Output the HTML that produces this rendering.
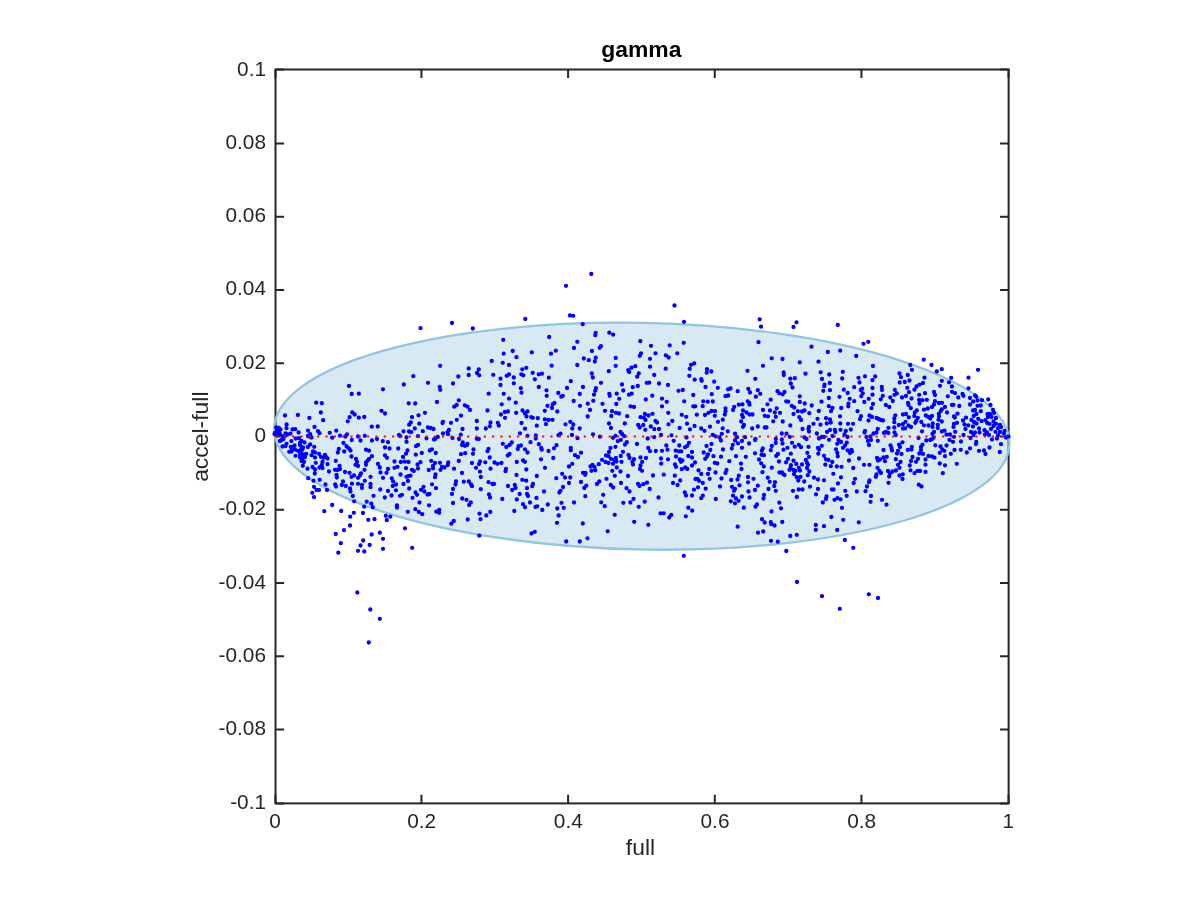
<!DOCTYPE html>
<html><head><meta charset="utf-8"><title>gamma</title>
<style>html,body{margin:0;padding:0;background:#fff}body{width:1200px;height:900px;overflow:hidden}</style>
</head><body>
<svg width="1200" height="900" viewBox="0 0 1200 900" style="display:block">
<rect width="1200" height="900" fill="#fff"/>
<rect x="275.5" y="69.5" width="733.1" height="733.9" fill="none" stroke="#262626" stroke-width="2"/>
<path d="M275.50 803.4v-8.6M275.50 69.5v8.6M421.44 803.4v-8.6M421.44 69.5v8.6M568.10 803.4v-8.6M568.10 69.5v8.6M714.77 803.4v-8.6M714.77 69.5v8.6M861.44 803.4v-8.6M861.44 69.5v8.6M1008.60 803.4v-8.6M1008.60 69.5v8.6M275.5 803.40h8.6M1008.6 803.40h-8.6M275.5 729.43h8.6M1008.6 729.43h-8.6M275.5 656.18h8.6M1008.6 656.18h-8.6M275.5 582.93h8.6M1008.6 582.93h-8.6M275.5 509.68h8.6M1008.6 509.68h-8.6M275.5 436.43h8.6M1008.6 436.43h-8.6M275.5 363.18h8.6M1008.6 363.18h-8.6M275.5 289.93h8.6M1008.6 289.93h-8.6M275.5 216.68h8.6M1008.6 216.68h-8.6M275.5 143.43h8.6M1008.6 143.43h-8.6M275.5 69.50h8.6M1008.6 69.50h-8.6" stroke="#262626" stroke-width="2" fill="none"/>
<ellipse cx="641.8" cy="436.2" rx="367.7" ry="113.3" transform="rotate(1.2 641.8 436.2)" fill="rgba(58,145,195,0.2)" stroke="#94c4e0" stroke-width="2.3"/>
<path d="M285.0 415.5h0M297.9 415.0h0M309.4 418.0h0M323.2 420.2h0M286.6 424.4h0M286.5 428.2h0M314.5 426.9h0M308.0 430.6h0M318.0 431.2h0M319.5 433.2h0M292.5 429.4h0M295.2 429.2h0M298.6 432.5h0M276.2 427.5h0M278.8 427.8h0M280.5 429.5h0M277.0 430.0h0M275.0 433.0h0M277.2 432.5h0M279.2 432.2h0M274.5 434.0h0M276.0 435.0h0M278.0 434.8h0M280.0 434.2h0M285.5 433.5h0M287.5 434.5h0M290.5 433.6h0M285.2 435.8h0M283.0 436.5h0M310.2 434.2h0M308.0 436.0h0M310.0 436.8h0M311.5 437.5h0M295.8 438.5h0M299.0 438.2h0M280.0 441.0h0M281.8 440.0h0M283.5 439.0h0M291.4 441.1h0M301.5 441.0h0M304.5 442.5h0M300.0 443.0h0M286.5 443.8h0M285.5 446.0h0M282.5 446.5h0M310.2 444.5h0M307.8 447.0h0M314.2 446.8h0M300.0 445.0h0M294.5 445.5h0M290.8 447.0h0M303.0 447.5h0M301.5 447.0h0M292.0 449.0h0M295.0 449.5h0M298.0 450.8h0M300.8 450.0h0M289.2 451.8h0M291.5 451.5h0M302.5 449.5h0M313.0 451.5h0M315.0 452.5h0M319.0 453.8h0M306.2 453.8h0M302.0 454.0h0M300.0 454.5h0M304.0 455.0h0M311.5 455.2h0M295.5 455.8h0M325.0 455.0h0M315.0 457.5h0M321.0 456.8h0M323.5 457.8h0M326.0 457.0h0M300.0 457.5h0M303.0 458.0h0M305.0 457.0h0M327.5 458.5h0M988.2 399.5h0M990.5 405.0h0M982.0 400.2h0M977.5 400.5h0M973.2 401.5h0M976.0 396.5h0M975.0 395.5h0M970.0 398.0h0M970.0 404.5h0M977.5 405.8h0M980.8 405.5h0M973.0 410.5h0M975.0 410.0h0M980.8 411.2h0M976.5 414.0h0M973.8 416.0h0M993.0 410.0h0M994.0 413.0h0M987.5 414.2h0M990.0 414.0h0M988.0 417.0h0M991.5 417.0h0M996.0 418.0h0M978.2 418.8h0M985.5 420.2h0M981.5 421.2h0M971.5 420.0h0M974.0 422.0h0M976.5 423.5h0M987.2 423.0h0M989.5 423.8h0M993.5 421.5h0M996.0 423.8h0M1000.0 425.0h0M993.5 426.0h0M973.0 426.5h0M1001.0 427.0h0M979.0 428.5h0M991.0 429.0h0M998.0 428.2h0M984.5 430.2h0M1004.5 430.8h0M995.5 431.8h0M1000.0 432.0h0M971.0 432.0h0M975.0 432.5h0M979.5 432.5h0M987.0 432.5h0M1004.0 433.5h0M985.0 434.5h0M989.0 435.0h0M973.5 435.0h0M998.0 435.5h0M1008.5 436.5h0M1006.0 437.5h0M970.5 438.0h0M997.0 438.5h0M992.0 439.5h0M320.8 412.5h0M352.2 412.5h0M354.7 414.5h0M349.6 417.2h0M358.8 417.7h0M364.3 417.0h0M347.8 421.3h0M381.5 410.8h0M385.0 413.5h0M371.8 426.7h0M377.8 426.5h0M336.3 430.7h0M329.8 432.8h0M347.0 434.3h0M340.0 435.7h0M345.5 436.5h0M364.8 435.8h0M358.0 436.5h0M332.2 437.7h0M377.0 439.0h0M351.8 440.0h0M360.5 440.5h0M372.0 440.5h0M382.8 441.2h0M388.0 442.2h0M343.5 443.0h0M346.5 446.2h0M348.0 447.8h0M349.5 449.2h0M350.5 450.5h0M338.8 449.0h0M385.0 447.5h0M389.5 448.5h0M366.0 449.7h0M369.0 450.7h0M337.8 452.5h0M344.2 451.5h0M351.5 456.5h0M372.0 456.2h0M385.0 455.5h0M387.0 457.8h0M356.0 459.0h0M369.0 459.0h0M367.5 460.8h0M335.8 460.8h0M357.0 462.0h0M304.0 462.0h0M301.5 461.0h0M315.8 462.8h0M322.5 462.0h0M366.0 462.5h0M378.0 464.0h0M327.5 464.2h0M355.5 464.8h0M358.0 466.0h0M302.8 465.8h0M321.8 464.8h0M366.0 464.8h0M339.5 466.0h0M312.5 467.0h0M319.5 467.5h0M322.5 468.0h0M379.8 467.5h0M307.5 468.7h0M388.0 469.0h0M315.0 469.5h0M340.0 469.0h0M335.0 469.8h0M337.5 470.0h0M364.5 469.8h0M329.0 471.5h0M345.0 472.0h0M380.5 472.5h0M386.5 472.8h0M314.8 473.5h0M349.5 472.8h0M361.0 473.3h0M336.5 475.0h0M354.0 475.5h0M360.0 475.5h0M351.5 476.8h0M358.0 477.8h0M370.5 476.8h0M336.8 477.5h0M383.0 477.8h0M308.2 478.2h0M319.7 479.8h0M313.5 480.7h0M364.8 480.8h0M343.0 481.5h0M352.0 483.7h0M358.0 483.8h0M362.0 484.8h0M370.5 484.0h0M325.5 484.5h0M341.8 485.0h0M335.2 484.5h0M336.0 486.5h0M345.8 486.0h0M314.0 486.8h0M370.5 487.2h0M362.0 488.0h0M350.0 488.5h0M380.3 489.5h0M388.0 491.0h0M327.0 490.0h0M316.5 490.0h0M319.0 490.0h0M350.5 491.5h0M312.2 492.8h0M352.8 496.0h0M373.5 495.8h0M314.0 497.2h0M384.8 497.5h0M425.0 412.8h0M418.5 415.3h0M412.0 417.2h0M461.0 415.7h0M487.5 410.5h0M470.0 410.0h0M501.0 414.5h0M505.0 412.0h0M508.0 411.5h0M505.0 417.8h0M456.8 419.8h0M476.8 421.0h0M443.0 421.8h0M442.5 423.0h0M451.0 422.8h0M490.5 422.5h0M497.8 422.8h0M410.8 422.5h0M419.3 423.7h0M409.2 424.7h0M498.8 425.5h0M489.8 426.3h0M485.8 428.5h0M476.8 428.5h0M414.8 428.5h0M428.0 427.5h0M430.5 428.0h0M433.5 429.0h0M462.5 429.0h0M449.0 430.0h0M403.5 431.3h0M409.0 431.5h0M411.2 432.2h0M422.8 431.2h0M447.5 432.2h0M443.0 433.5h0M448.0 434.2h0M460.8 434.7h0M399.0 435.0h0M400.0 436.0h0M418.0 436.2h0M406.5 437.5h0M437.8 437.0h0M426.5 438.3h0M435.0 439.0h0M434.0 439.5h0M452.5 438.0h0M459.0 439.0h0M476.8 438.8h0M478.8 439.0h0M406.5 441.8h0M462.8 442.5h0M467.5 443.8h0M462.0 445.0h0M464.8 445.8h0M466.8 445.2h0M502.8 443.8h0M418.0 445.0h0M416.0 446.2h0M509.5 445.0h0M506.3 447.0h0M398.2 448.5h0M488.5 448.8h0M473.5 449.5h0M487.5 451.2h0M407.5 450.5h0M432.0 449.3h0M429.8 450.5h0M421.8 453.0h0M435.8 453.0h0M465.2 453.2h0M461.0 454.2h0M473.0 453.8h0M406.0 453.7h0M415.8 454.7h0M509.5 454.0h0M507.8 455.5h0M403.0 457.0h0M489.8 457.5h0M394.5 461.5h0M400.8 462.0h0M404.8 461.7h0M408.5 462.0h0M431.2 460.8h0M458.8 461.0h0M440.0 462.8h0M435.0 463.0h0M448.3 462.5h0M420.5 462.2h0M417.5 464.5h0M472.0 463.0h0M480.0 461.5h0M479.0 464.0h0M485.3 462.3h0M494.5 462.5h0M497.5 463.8h0M501.5 463.0h0M447.8 465.0h0M433.0 466.0h0M442.0 467.0h0M444.5 467.5h0M433.0 468.3h0M397.5 466.8h0M394.5 467.8h0M406.0 468.2h0M418.0 468.5h0M440.5 469.8h0M428.8 470.0h0M454.0 468.7h0M476.0 467.8h0M490.5 468.7h0M412.0 469.8h0M413.8 471.0h0M506.0 469.0h0M505.5 471.2h0M480.0 471.7h0M462.0 473.0h0M400.5 474.5h0M435.5 474.5h0M410.5 475.7h0M408.5 476.2h0M406.5 476.8h0M435.0 477.2h0M480.8 477.0h0M391.8 478.3h0M408.0 481.0h0M393.0 481.3h0M456.0 481.5h0M463.8 481.7h0M468.8 481.5h0M488.5 482.2h0M492.5 484.0h0M494.0 484.0h0M403.5 484.0h0M396.0 484.5h0M392.8 486.0h0M432.0 484.3h0M455.5 484.5h0M471.0 484.5h0M472.0 486.2h0M508.0 486.0h0M423.5 486.8h0M436.0 488.2h0M409.2 488.5h0M453.0 489.0h0M480.8 489.2h0M421.0 489.8h0M396.0 490.3h0M424.3 491.5h0M415.5 492.5h0M417.0 494.8h0M427.5 494.5h0M429.5 494.0h0M452.0 494.0h0M489.0 494.5h0M391.5 495.5h0M402.0 494.8h0M400.0 495.8h0M490.0 497.5h0M412.5 497.8h0M462.2 498.5h0M502.3 499.0h0M466.5 499.8h0M516.2 412.8h0M522.5 410.5h0M525.0 413.5h0M527.5 411.5h0M526.5 416.5h0M544.8 410.8h0M557.3 411.5h0M590.0 410.0h0M605.0 410.8h0M612.0 411.2h0M616.0 412.8h0M619.0 413.5h0M611.3 416.0h0M627.2 416.2h0M587.7 416.5h0M531.3 417.2h0M532.8 417.8h0M537.8 418.2h0M544.8 419.3h0M548.5 420.0h0M552.5 419.8h0M521.5 423.0h0M570.3 421.8h0M609.0 423.5h0M624.8 423.5h0M546.0 424.2h0M565.5 424.3h0M573.3 424.5h0M536.8 425.7h0M525.0 428.7h0M572.3 428.5h0M579.7 428.5h0M611.0 428.0h0M620.5 432.0h0M622.0 434.0h0M520.0 433.3h0M560.5 433.7h0M558.5 435.2h0M572.0 435.0h0M593.0 434.3h0M527.5 435.8h0M535.8 435.5h0M615.5 435.8h0M624.0 436.0h0M600.0 436.7h0M613.0 437.8h0M535.8 438.5h0M577.5 438.2h0M620.8 439.8h0M617.8 441.2h0M626.8 442.2h0M530.5 442.2h0M511.8 442.5h0M538.8 444.2h0M625.0 444.5h0M556.5 445.2h0M521.0 445.5h0M518.5 446.2h0M615.5 446.8h0M570.8 447.8h0M610.5 448.0h0M541.2 448.0h0M554.0 448.3h0M517.8 449.0h0M525.0 449.3h0M541.8 449.7h0M570.8 450.3h0M548.5 451.0h0M527.5 452.5h0M581.0 452.7h0M609.0 452.0h0M623.0 451.8h0M575.0 455.2h0M606.0 455.5h0M608.5 456.2h0M620.8 456.0h0M628.5 455.0h0M578.0 457.0h0M553.3 458.0h0M616.0 457.8h0M611.0 458.8h0M614.0 459.8h0M541.0 459.3h0M602.0 459.8h0M523.0 460.5h0M525.0 461.8h0M516.8 462.0h0M616.5 461.5h0M621.5 461.8h0M605.5 462.0h0M608.5 463.0h0M629.5 458.0h0M572.3 463.8h0M613.0 463.8h0M598.8 464.2h0M592.5 464.8h0M569.0 466.5h0M590.5 466.5h0M594.5 467.0h0M545.0 467.8h0M616.8 467.5h0M526.3 469.5h0M595.3 470.3h0M591.5 470.8h0M612.3 470.8h0M620.5 471.5h0M583.0 472.8h0M585.5 472.8h0M585.2 474.8h0M562.2 473.8h0M516.5 475.0h0M536.8 476.0h0M614.8 475.8h0M628.0 476.0h0M565.0 477.5h0M570.3 477.5h0M556.3 478.2h0M606.5 478.8h0M522.3 479.8h0M526.2 480.7h0M599.3 481.5h0M581.0 482.0h0M569.0 483.0h0M621.0 483.0h0M597.0 484.0h0M533.0 484.0h0M532.2 486.2h0M514.8 485.0h0M610.8 485.0h0M586.3 485.7h0M515.5 488.0h0M563.0 487.0h0M613.2 487.5h0M584.3 488.0h0M527.0 488.2h0M626.5 488.2h0M512.2 490.0h0M560.5 490.8h0M544.0 491.5h0M559.3 492.5h0M629.5 491.5h0M519.7 494.0h0M527.0 494.0h0M603.2 494.8h0M528.0 496.0h0M585.3 496.2h0M536.5 498.0h0M516.8 499.5h0M668.3 412.8h0M652.5 413.8h0M644.8 414.0h0M648.5 415.5h0M640.5 417.2h0M644.0 417.8h0M645.5 420.0h0M681.8 414.8h0M696.8 414.7h0M686.2 416.8h0M705.0 415.0h0M708.5 412.8h0M711.5 411.0h0M715.0 411.2h0M714.8 415.8h0M725.5 411.2h0M724.8 414.5h0M733.0 410.0h0M743.0 410.5h0M746.5 412.5h0M742.0 415.0h0M749.5 414.5h0M743.0 417.2h0M722.8 419.7h0M718.0 421.8h0M741.2 421.5h0M655.5 421.0h0M657.0 422.5h0M672.3 421.0h0M687.0 423.7h0M668.5 424.3h0M638.2 425.0h0M643.3 425.0h0M639.7 427.5h0M650.8 426.5h0M694.5 426.0h0M710.0 426.7h0M744.0 425.0h0M743.0 426.8h0M679.7 428.0h0M654.3 429.2h0M659.0 429.0h0M645.3 429.8h0M690.0 429.3h0M701.2 428.5h0M704.5 430.8h0M722.7 428.3h0M727.8 431.3h0M735.0 433.7h0M721.8 433.8h0M661.0 435.0h0M671.5 435.3h0M712.8 434.8h0M715.5 436.3h0M654.2 437.2h0M647.7 438.5h0M686.5 437.5h0M719.5 437.5h0M721.0 440.5h0M737.0 437.2h0M745.0 437.2h0M735.0 440.5h0M742.0 441.0h0M738.0 443.3h0M673.7 440.8h0M689.0 442.8h0M637.0 444.0h0M711.5 444.0h0M749.0 443.5h0M732.8 444.8h0M679.3 445.5h0M666.3 445.5h0M687.3 445.8h0M685.0 447.3h0M706.5 446.0h0M648.3 448.0h0M742.0 447.8h0M731.8 448.5h0M667.5 449.7h0M723.0 449.5h0M710.3 450.0h0M655.8 451.0h0M662.0 450.8h0M650.0 451.2h0M675.7 450.7h0M678.8 451.3h0M681.3 451.3h0M692.0 452.0h0M703.7 452.5h0M708.0 454.3h0M688.3 456.0h0M676.0 456.5h0M713.5 456.2h0M721.0 456.7h0M736.0 456.2h0M745.8 456.8h0M707.0 456.5h0M692.0 457.5h0M640.5 457.5h0M646.0 458.0h0M705.2 458.8h0M661.0 458.5h0M668.0 459.3h0M634.0 459.2h0M679.8 459.5h0M682.5 460.5h0M681.0 461.8h0M729.3 461.2h0M632.5 461.8h0M642.2 461.8h0M695.0 462.5h0M633.0 464.5h0M714.8 462.8h0M717.3 463.5h0M661.2 463.7h0M741.0 463.7h0M675.0 464.5h0M676.0 466.8h0M692.0 465.5h0M640.5 465.5h0M685.3 467.5h0M687.3 469.0h0M681.8 469.2h0M640.0 469.0h0M642.0 470.8h0M709.3 469.0h0M741.5 469.0h0M698.5 470.3h0M726.5 470.0h0M715.5 472.5h0M725.5 473.0h0M701.2 474.0h0M708.0 474.0h0M663.8 474.7h0M653.0 475.5h0M674.8 475.7h0M738.8 475.7h0M748.0 477.0h0M721.5 478.5h0M709.7 478.8h0M695.5 479.0h0M697.5 478.8h0M699.0 480.8h0M737.5 479.5h0M731.2 480.0h0M680.2 480.5h0M748.0 482.3h0M647.0 482.7h0M702.8 483.0h0M673.0 483.0h0M643.3 484.2h0M638.0 483.8h0M639.5 486.0h0M677.5 485.0h0M739.5 485.3h0M720.0 486.5h0M732.0 486.8h0M698.0 487.3h0M705.7 488.7h0M649.7 489.0h0M735.0 489.0h0M694.0 489.7h0M734.0 490.8h0M748.5 491.5h0M684.8 492.5h0M686.0 495.5h0M692.0 495.5h0M702.8 495.7h0M733.0 495.7h0M742.0 496.5h0M658.5 497.5h0M701.2 498.2h0M715.8 499.0h0M633.5 499.0h0M736.0 498.5h0M749.5 497.5h0M763.0 410.0h0M770.0 410.5h0M774.8 412.5h0M780.0 412.8h0M775.8 416.8h0M764.8 415.8h0M768.0 416.3h0M752.5 414.5h0M793.5 414.0h0M797.8 411.2h0M802.0 411.5h0M804.5 410.5h0M809.3 413.2h0M818.8 411.0h0M831.0 411.2h0M857.5 411.2h0M799.3 417.2h0M801.0 420.0h0M817.5 418.8h0M826.0 418.2h0M830.0 419.5h0M840.0 416.3h0M861.0 416.2h0M860.0 419.2h0M869.5 415.5h0M868.5 420.5h0M773.2 421.3h0M782.7 421.5h0M830.8 422.5h0M826.8 423.5h0M813.5 423.8h0M820.5 424.7h0M840.3 423.5h0M848.0 423.8h0M853.0 423.8h0M790.3 425.5h0M757.8 426.5h0M764.8 427.5h0M766.5 427.5h0M752.2 428.5h0M809.0 426.8h0M802.5 429.0h0M808.5 429.0h0M809.0 431.5h0M850.8 429.5h0M840.5 429.8h0M830.0 430.0h0M834.8 429.8h0M827.0 432.0h0M835.3 432.0h0M845.8 431.0h0M865.0 431.0h0M864.5 432.5h0M781.8 433.5h0M786.5 433.7h0M816.8 433.5h0M844.5 434.5h0M832.5 436.0h0M789.8 436.8h0M804.5 437.5h0M806.5 439.0h0M847.5 437.0h0M821.8 437.0h0M824.0 437.0h0M819.0 438.5h0M829.0 439.8h0M866.5 437.0h0M868.0 441.0h0M775.8 439.0h0M781.8 439.5h0M755.5 439.0h0M755.0 440.0h0M838.5 440.0h0M841.0 442.0h0M846.8 442.7h0M782.5 443.5h0M775.8 443.0h0M792.0 442.8h0M837.2 443.8h0M798.8 444.8h0M869.0 445.0h0M771.8 446.0h0M821.8 445.8h0M845.0 445.5h0M794.7 446.7h0M801.0 447.2h0M808.5 446.8h0M843.0 447.8h0M787.5 447.8h0M818.0 448.0h0M762.8 448.5h0M819.0 449.5h0M783.5 449.7h0M770.8 450.2h0M836.0 449.3h0M761.8 450.8h0M851.5 450.0h0M847.5 450.3h0M852.0 451.5h0M850.0 453.0h0M837.3 452.8h0M755.0 453.3h0M807.3 452.8h0M818.3 453.7h0M790.8 453.7h0M778.0 454.0h0M761.5 454.8h0M764.0 455.2h0M776.2 456.0h0M824.0 455.8h0M837.8 456.3h0M809.0 456.8h0M859.0 458.5h0M788.0 458.8h0M759.0 459.5h0M826.0 459.3h0M828.3 460.0h0M805.8 460.0h0M849.0 460.5h0M793.5 460.7h0M779.0 461.5h0M832.3 462.0h0M786.0 462.3h0M807.0 462.7h0M761.2 463.3h0M796.3 464.0h0M802.0 464.5h0M808.0 464.8h0M825.3 464.7h0M791.0 465.2h0M864.0 464.8h0M869.5 464.8h0M763.8 466.5h0M830.8 466.2h0M836.8 466.5h0M841.5 466.8h0M771.8 467.7h0M790.5 467.8h0M798.8 467.8h0M807.0 468.0h0M853.3 468.0h0M789.5 469.8h0M793.5 470.0h0M795.5 470.8h0M800.0 470.5h0M809.3 471.5h0M762.5 472.2h0M779.5 472.5h0M782.0 472.5h0M783.0 474.0h0M784.5 475.0h0M794.0 474.0h0M833.3 473.8h0M807.8 475.2h0M796.7 477.2h0M800.5 476.8h0M841.0 477.3h0M814.0 477.7h0M767.8 477.7h0M753.5 478.8h0M818.0 479.5h0M855.0 478.8h0M824.0 480.3h0M798.3 480.5h0M869.5 480.5h0M804.3 481.5h0M769.7 481.8h0M775.0 482.2h0M869.0 482.2h0M853.7 483.0h0M838.0 483.5h0M757.8 485.7h0M774.3 486.0h0M810.0 486.7h0M867.0 486.5h0M768.5 489.0h0M818.0 489.0h0M798.7 489.5h0M802.5 489.5h0M755.0 490.0h0M832.0 489.5h0M833.5 489.5h0M775.8 490.8h0M793.0 490.8h0M845.3 490.8h0M856.8 491.5h0M865.5 491.2h0M816.0 494.3h0M764.0 495.0h0M846.7 495.8h0M826.5 496.5h0M796.8 497.0h0M763.5 498.5h0M837.5 498.2h0M826.0 499.0h0M840.5 499.3h0M834.5 499.8h0M873.0 366.0h0M910.3 365.0h0M931.5 365.0h0M912.0 369.8h0M941.8 369.2h0M936.8 371.5h0M978.0 369.8h0M899.5 373.5h0M907.8 375.0h0M875.2 376.5h0M901.0 377.2h0M924.5 377.7h0M951.2 377.8h0M968.5 377.7h0M872.5 380.2h0M909.5 380.5h0M904.8 382.0h0M899.7 382.5h0M941.8 380.8h0M949.0 382.3h0M923.0 383.0h0M919.5 384.7h0M916.5 386.5h0M940.0 385.8h0M952.0 386.5h0M881.8 386.8h0M872.5 388.0h0M907.3 387.8h0M968.5 388.3h0M882.0 390.0h0M894.8 389.8h0M914.5 389.7h0M909.0 392.2h0M934.0 392.0h0M952.0 391.8h0M955.0 393.2h0M925.0 393.2h0M896.8 393.5h0M894.5 394.8h0M919.2 394.8h0M935.0 395.0h0M962.5 394.0h0M963.5 395.8h0M872.5 394.7h0M882.8 395.8h0M906.0 396.0h0M947.8 396.3h0M902.0 397.5h0M890.3 397.5h0M958.3 397.5h0M911.5 398.5h0M880.8 399.3h0M919.0 399.8h0M922.5 400.2h0M926.8 399.8h0M892.8 401.0h0M935.0 401.2h0M919.5 403.5h0M908.0 403.0h0M939.0 403.0h0M942.0 402.8h0M934.0 404.5h0M873.0 404.0h0M908.5 405.0h0M885.8 405.0h0M952.0 405.0h0M953.5 404.8h0M959.3 406.0h0M932.0 407.0h0M889.3 407.0h0M945.0 407.0h0M910.8 408.2h0M871.5 408.2h0M927.8 408.5h0M924.0 409.7h0M941.8 409.5h0M940.8 411.0h0M916.8 410.5h0M914.8 412.5h0M947.0 412.5h0M938.8 413.8h0M957.5 413.7h0M903.0 414.5h0M906.0 414.0h0M872.0 417.0h0M895.3 415.3h0M925.8 415.5h0M932.0 416.0h0M928.3 417.0h0M930.3 418.5h0M939.0 416.3h0M914.3 416.0h0M954.0 416.5h0M954.8 417.5h0M908.8 417.3h0M917.8 418.0h0M966.0 417.7h0M894.3 418.5h0M876.5 418.0h0M878.5 419.0h0M880.8 420.0h0M883.0 420.5h0M938.5 419.8h0M916.3 421.0h0M963.0 420.5h0M941.8 421.5h0M921.3 422.0h0M905.5 421.8h0M894.3 422.2h0M915.3 422.8h0M957.0 422.8h0M954.0 424.0h0M902.8 424.2h0M932.8 423.5h0M964.5 424.5h0M968.3 425.3h0M898.8 425.0h0M928.5 425.5h0M924.0 425.3h0M937.8 424.8h0M908.5 425.5h0M911.0 427.0h0M953.5 427.0h0M932.5 427.0h0M894.3 427.5h0M888.5 427.8h0M937.8 428.0h0M903.0 428.5h0M905.2 428.3h0M877.8 429.0h0M965.5 429.0h0M944.5 430.7h0M941.8 431.5h0M955.2 431.8h0M922.0 431.3h0M886.0 431.8h0M934.0 432.0h0M888.3 433.0h0M884.0 433.0h0M932.5 434.0h0M894.5 432.5h0M895.8 435.0h0M873.5 433.5h0M876.5 432.5h0M946.5 434.7h0M950.0 434.5h0M963.5 435.0h0M870.5 436.5h0M954.0 436.8h0M918.5 438.0h0M933.5 437.8h0M931.8 439.2h0M930.3 440.0h0M926.3 440.5h0M949.5 440.0h0M877.8 440.8h0M953.0 441.8h0M961.0 441.5h0M976.3 442.0h0M902.5 442.3h0M871.0 440.0h0M976.0 444.0h0M899.0 444.7h0M890.5 445.3h0M900.0 447.0h0M935.3 445.3h0M946.5 445.5h0M922.5 444.7h0M921.0 447.0h0M940.5 446.5h0M911.8 446.8h0M891.5 448.0h0M970.0 448.3h0M942.3 449.5h0M883.5 450.0h0M954.5 450.0h0M960.8 449.8h0M907.8 450.0h0M911.5 449.5h0M892.0 450.5h0M944.3 450.8h0M921.0 450.0h0M979.0 450.8h0M984.0 450.5h0M898.0 450.8h0M966.8 452.5h0M939.8 452.8h0M897.0 453.5h0M901.5 454.0h0M919.3 453.5h0M923.0 454.0h0M950.8 453.8h0M985.5 454.0h0M989.5 447.5h0M877.0 458.0h0M880.0 459.5h0M883.5 457.5h0M886.8 456.8h0M885.0 461.2h0M878.0 460.5h0M895.8 459.2h0M912.5 457.0h0M918.0 458.8h0M911.0 461.0h0M916.0 461.8h0M925.5 459.5h0M928.5 456.0h0M932.0 456.5h0M934.5 457.7h0M945.0 456.2h0M900.5 462.0h0M898.0 464.8h0M899.5 467.8h0M909.8 465.5h0M925.5 464.7h0M939.8 463.5h0M945.0 465.3h0M956.8 463.8h0M877.5 467.8h0M879.5 471.0h0M881.0 473.0h0M896.0 470.5h0M888.0 471.0h0M892.5 471.5h0M890.0 473.5h0M889.2 476.5h0M910.5 470.3h0M917.5 470.8h0M920.0 471.0h0M914.5 473.2h0M925.5 472.0h0M942.8 473.2h0M876.5 474.5h0M875.8 476.8h0M899.5 475.5h0M902.8 474.3h0M902.5 479.0h0M888.5 482.8h0M918.8 484.7h0M921.5 486.5h0M871.0 496.0h0M882.0 499.8h0M870.5 501.8h0M886.5 504.7h0M420.5 328.2h0M452.0 323.0h0M440.2 365.8h0M468.7 368.5h0M468.7 375.0h0M413.3 376.2h0M458.3 376.5h0M428.0 382.8h0M453.0 383.5h0M403.8 384.5h0M349.0 386.0h0M439.7 386.8h0M440.3 389.8h0M383.0 389.3h0M351.7 394.0h0M358.8 393.7h0M458.8 400.3h0M437.0 402.0h0M316.2 402.7h0M321.8 403.2h0M408.7 403.3h0M415.2 403.5h0M456.7 405.0h0M454.2 406.7h0M464.7 405.3h0M467.5 406.7h0M591.3 274.0h0M566.0 285.8h0M570.0 315.5h0M573.2 315.8h0M525.3 319.0h0M472.8 328.5h0M582.7 324.2h0M595.7 332.8h0M595.3 335.2h0M609.3 332.7h0M613.2 334.7h0M549.2 337.0h0M503.2 339.8h0M577.3 341.8h0M640.3 341.2h0M651.0 345.8h0M669.7 345.3h0M601.0 346.2h0M599.7 347.8h0M574.0 348.0h0M512.7 351.0h0M555.8 350.7h0M592.0 351.0h0M531.8 352.3h0M503.7 353.7h0M551.0 353.7h0M641.0 353.3h0M655.5 353.3h0M639.8 355.8h0M665.8 355.3h0M668.7 357.5h0M516.5 357.2h0M595.7 357.7h0M615.7 358.0h0M583.8 358.5h0M650.0 358.8h0M588.8 360.2h0M594.8 361.5h0M491.7 361.0h0M502.7 362.8h0M509.0 365.0h0M551.7 365.7h0M577.3 365.0h0M615.7 365.8h0M635.3 366.2h0M650.0 366.7h0M631.5 367.7h0M526.3 367.8h0M522.3 369.3h0M478.8 369.5h0M665.7 368.7h0M628.2 370.2h0M608.8 371.2h0M629.2 372.0h0M477.0 373.0h0M591.8 373.5h0M638.8 373.5h0M532.7 372.8h0M542.0 373.7h0M538.7 374.3h0M479.2 375.3h0M493.3 374.8h0M509.0 374.5h0M506.7 375.8h0M521.3 374.3h0M523.3 375.3h0M654.2 375.0h0M637.2 376.7h0M513.8 377.5h0M548.8 377.7h0M592.8 377.5h0M500.5 378.7h0M534.8 379.3h0M570.8 381.2h0M601.0 382.8h0M646.7 382.8h0M649.2 382.7h0M659.0 383.5h0M513.8 383.3h0M622.0 384.5h0M668.0 385.0h0M500.5 385.0h0M637.8 386.0h0M538.8 387.0h0M583.0 387.0h0M632.8 387.2h0M520.8 388.2h0M567.0 388.0h0M596.0 388.2h0M595.2 390.7h0M546.5 390.3h0M623.3 390.5h0M521.5 392.7h0M558.3 393.0h0M488.7 393.7h0M503.7 393.8h0M579.8 394.0h0M616.7 393.7h0M609.3 393.8h0M631.7 393.7h0M629.0 394.7h0M594.0 394.7h0M609.7 395.8h0M546.7 395.8h0M562.8 395.8h0M561.3 396.7h0M652.3 395.7h0M509.0 398.7h0M619.2 398.8h0M645.8 399.5h0M662.0 398.7h0M573.7 401.0h0M593.3 400.8h0M666.7 401.8h0M515.8 402.7h0M554.5 403.0h0M552.7 404.3h0M501.7 404.3h0M587.8 403.7h0M602.5 403.8h0M616.3 404.0h0M547.5 405.8h0M580.0 405.8h0M662.0 406.3h0M630.5 406.3h0M634.0 407.0h0M552.0 408.0h0M674.5 305.5h0M684.0 321.8h0M759.7 319.3h0M761.0 326.7h0M796.5 322.3h0M793.5 327.0h0M837.8 325.0h0M868.3 341.8h0M863.5 343.8h0M683.7 342.8h0M758.5 342.2h0M811.5 346.7h0M840.2 350.7h0M827.8 352.0h0M677.3 353.3h0M856.2 356.0h0M771.7 358.3h0M782.5 359.0h0M818.5 361.7h0M799.8 362.3h0M694.2 363.5h0M691.0 364.8h0M763.0 365.8h0M689.7 368.8h0M707.0 369.2h0M711.3 371.5h0M706.7 372.7h0M747.5 370.8h0M842.8 371.8h0M820.7 372.3h0M783.7 372.5h0M783.8 375.0h0M805.5 373.7h0M829.2 374.5h0M689.3 375.8h0M865.0 376.3h0M858.5 377.8h0M842.2 378.5h0M755.3 378.8h0M790.3 378.7h0M794.8 378.2h0M822.0 379.0h0M694.7 379.7h0M701.3 379.2h0M701.7 380.8h0M714.2 381.7h0M859.5 382.5h0M829.8 383.0h0M790.8 383.5h0M824.5 384.7h0M824.2 386.2h0M705.5 387.0h0M792.5 387.5h0M717.8 387.8h0M854.2 387.2h0M730.5 388.5h0M728.0 389.3h0M748.3 388.8h0M862.2 388.7h0M860.8 390.0h0M843.8 389.7h0M678.5 390.8h0M682.8 390.0h0M757.8 390.2h0M823.3 390.8h0M830.0 390.2h0M737.7 391.2h0M777.5 391.2h0M784.5 392.0h0M750.0 392.5h0M779.2 393.3h0M782.7 394.3h0M760.2 393.8h0M847.7 393.0h0M862.8 393.3h0M711.8 394.2h0M693.3 395.0h0M728.2 395.5h0M725.5 396.2h0M861.3 396.2h0M755.8 396.7h0M799.8 396.3h0M839.5 396.8h0M828.8 398.0h0M849.7 398.8h0M868.7 398.8h0M770.7 399.7h0M684.2 401.3h0M703.3 401.3h0M707.7 401.7h0M712.8 401.5h0M747.7 401.3h0M749.2 403.0h0M786.2 401.3h0M788.2 401.7h0M799.8 402.0h0M821.5 401.7h0M854.2 401.2h0M864.3 402.0h0M804.7 403.5h0M848.5 403.7h0M767.5 404.3h0M738.8 404.7h0M742.5 404.3h0M811.7 405.5h0M693.3 406.3h0M695.3 406.3h0M702.7 406.2h0M828.8 406.2h0M848.3 406.3h0M749.5 404.7h0M791.7 405.8h0M794.2 407.5h0M734.2 407.0h0M725.5 408.3h0M776.7 408.3h0M832.5 408.0h0M841.2 408.0h0M923.7 359.7h0M354.2 501.3h0M366.7 501.7h0M371.3 503.7h0M372.8 507.2h0M364.2 506.7h0M332.2 505.0h0M324.3 511.2h0M341.2 511.0h0M353.8 512.8h0M363.0 513.0h0M350.2 516.7h0M368.3 519.8h0M374.5 519.2h0M385.8 515.8h0M390.3 516.7h0M386.8 520.2h0M397.0 505.5h0M397.0 507.5h0M407.8 511.8h0M419.5 502.5h0M415.3 509.2h0M418.8 512.0h0M422.2 514.2h0M429.0 505.3h0M439.2 510.0h0M436.3 511.7h0M439.2 512.8h0M453.0 503.0h0M469.2 505.0h0M453.8 521.0h0M451.3 523.7h0M467.7 519.5h0M350.0 525.5h0M344.0 530.2h0M335.7 534.0h0M405.0 528.3h0M379.8 532.7h0M371.7 534.5h0M383.0 538.8h0M363.2 540.5h0M340.8 543.2h0M360.5 545.5h0M369.7 545.0h0M383.0 548.8h0M412.2 547.8h0M358.0 550.8h0M364.3 551.5h0M338.3 552.7h0M357.3 592.5h0M370.3 609.5h0M379.8 618.8h0M368.8 642.5h0M470.8 502.5h0M523.0 504.2h0M525.0 507.2h0M530.0 502.5h0M535.5 507.0h0M537.2 506.3h0M547.8 504.5h0M542.3 510.0h0M561.5 502.8h0M574.0 502.5h0M557.3 508.5h0M563.7 507.8h0M601.2 502.3h0M604.7 506.2h0M623.3 502.8h0M630.3 502.5h0M644.7 501.7h0M638.7 506.8h0M514.3 511.0h0M490.3 512.0h0M479.5 513.7h0M486.3 515.5h0M480.5 519.2h0M558.7 515.5h0M614.7 514.8h0M660.5 513.3h0M663.7 513.3h0M669.2 517.5h0M557.0 522.8h0M582.8 523.5h0M634.2 521.8h0M648.3 524.8h0M607.7 531.3h0M534.8 531.8h0M531.5 533.5h0M479.3 535.7h0M587.5 538.3h0M566.2 541.5h0M579.8 541.5h0M730.8 501.3h0M735.0 503.3h0M738.7 500.8h0M757.0 504.5h0M755.5 506.7h0M743.8 507.7h0M779.3 502.7h0M781.0 508.3h0M822.8 502.5h0M842.0 507.8h0M688.3 507.7h0M692.2 510.7h0M671.3 515.0h0M685.8 516.3h0M771.5 511.5h0M762.0 519.2h0M764.7 522.5h0M770.8 522.2h0M771.3 524.2h0M774.5 525.5h0M782.3 522.0h0M831.3 517.0h0M843.2 519.8h0M858.8 522.3h0M737.7 526.7h0M815.8 525.0h0M824.0 526.2h0M815.8 529.8h0M837.2 530.0h0M763.2 531.5h0M758.0 532.7h0M790.3 536.0h0M796.8 534.8h0M771.0 540.8h0M777.8 541.7h0M844.8 540.0h0M853.3 547.8h0M786.3 551.0h0M683.8 555.8h0M797.0 582.0h0M822.0 596.2h0M868.8 594.3h0M839.8 608.8h0M1001.0 444.2h0M999.8 452.0h0M878.0 598.0h0" stroke="#0000ff" stroke-width="4.3" stroke-linecap="round" fill="none"/>
<line x1="275.45" y1="436.5" x2="1008.6" y2="436.5" stroke="#ff0000" stroke-width="2.1" stroke-dasharray="2.1 6.233"/>
<g font-family="'Liberation Sans', Arial, Helvetica, sans-serif" font-size="20.8" fill="#262626">
<text x="275.0" y="828" text-anchor="middle">0</text>
<text x="421.6" y="828" text-anchor="middle">0.2</text>
<text x="568.3" y="828" text-anchor="middle">0.4</text>
<text x="715.0" y="828" text-anchor="middle">0.6</text>
<text x="861.6" y="828" text-anchor="middle">0.8</text>
<text x="1008.3" y="828" text-anchor="middle">1</text>
<text x="266" y="808.5" text-anchor="end">-0.1</text>
<text x="266" y="735.2" text-anchor="end">-0.08</text>
<text x="266" y="661.9" text-anchor="end">-0.06</text>
<text x="266" y="588.6" text-anchor="end">-0.04</text>
<text x="266" y="515.3" text-anchor="end">-0.02</text>
<text x="266" y="442.0" text-anchor="end">0</text>
<text x="266" y="368.7" text-anchor="end">0.02</text>
<text x="266" y="295.4" text-anchor="end">0.04</text>
<text x="266" y="222.1" text-anchor="end">0.06</text>
<text x="266" y="148.8" text-anchor="end">0.08</text>
<text x="266" y="75.5" text-anchor="end">0.1</text>
</g>
<g font-family="'Liberation Sans', Arial, Helvetica, sans-serif" font-size="22.9" fill="#262626">
<text x="640.5" y="854.5" text-anchor="middle">full</text>
<text transform="translate(208 436.7) rotate(-90)" text-anchor="middle">accel-full</text>
<text x="641.3" y="57.4" text-anchor="middle" font-weight="bold" fill="#000">gamma</text>
</g>
</svg>
</body></html>
